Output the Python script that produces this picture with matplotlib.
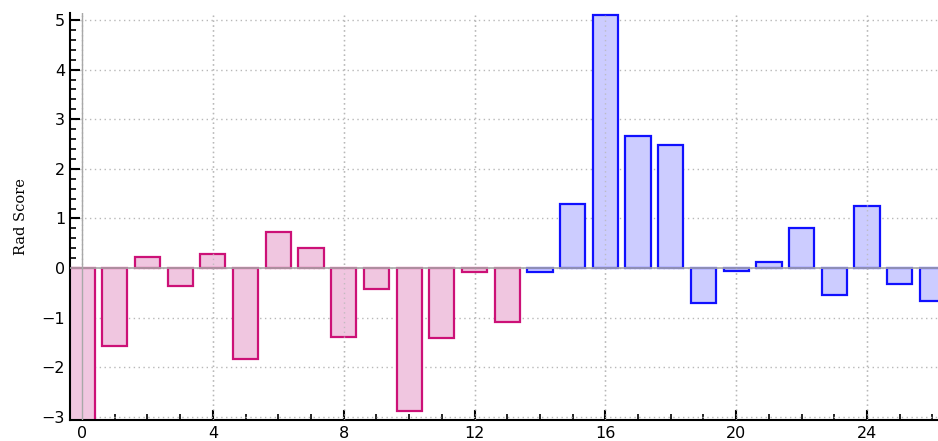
import matplotlib
matplotlib.use("Agg")
import matplotlib.pyplot as plt
from matplotlib.ticker import MultipleLocator
import numpy as np

x_pos = list(range(27))
scores = [-3.3, -1.56, 0.22, -0.36, 0.28, -1.83, 0.73, 0.40, -1.39, -0.42,
          -2.88, -1.41, -0.08, -1.09, -0.08, 1.30, 5.11, 2.66, 2.49, -0.71,
          -0.05, 0.12, 0.81, -0.55, 1.26, -0.31, -0.66]
group = ["a"] * 14 + ["b"] * 13
face = {"a": "#f0c6e0", "b": "#ccccff"}
edge = {"a": "#cc1177", "b": "#1010ff"}
ylabel = "Rad Score"
xticks = [0, 4, 8, 12, 16, 20, 24]
yticks = [-3, -2, -1, 0, 1, 2, 3, 4, 5]

fig = plt.figure(figsize=(9.38, 4.41), dpi=100)
ax = fig.add_axes([0.0746, 0.0476, 0.9254, 0.924])

ax.grid(True, which="major", linestyle=(0, (1, 2.5)), color="#b8b8b8", linewidth=1.0, zorder=0)
ax.bar(x_pos, scores, width=0.77,
       color=[face[g] for g in group],
       edgecolor=[edge[g] for g in group], linewidth=1.6, zorder=2)
# grid visible through bars in the reference
for xt in xticks[1:]:
    ax.axvline(xt, linestyle=(0, (1, 2.5)), color="#b8b8b8", linewidth=1.0, zorder=3, alpha=0.8)
ax.axhline(0, color="#a8a8a8", linewidth=1.2, zorder=4)
ax.axvline(0, color="#a8a8a8", linewidth=1.0, zorder=4)

ax.set_xlim(-0.37, 26.17)
ax.set_ylim(-3.06, 5.15)
ax.set_xticks(xticks)
ax.set_yticks(yticks)
ax.xaxis.set_minor_locator(MultipleLocator(1))
ax.yaxis.set_minor_locator(MultipleLocator(0.2))
ax.set_yticklabels([str(v).replace("-", "\u2212") for v in yticks])
ax.tick_params(axis="both", which="major", direction="in", length=7, width=1.5, labelsize=11.5)
ax.tick_params(axis="both", which="minor", direction="in", length=4, width=1.2)
ax.tick_params(axis="x", pad=4)
for s in ["top", "right"]:
    ax.spines[s].set_visible(False)
for s in ["left", "bottom"]:
    ax.spines[s].set_linewidth(1.5)
ax.set_ylabel(ylabel, family="DejaVu Serif", fontsize=10.5, labelpad=10)

fig.savefig("out.png", dpi=100)
